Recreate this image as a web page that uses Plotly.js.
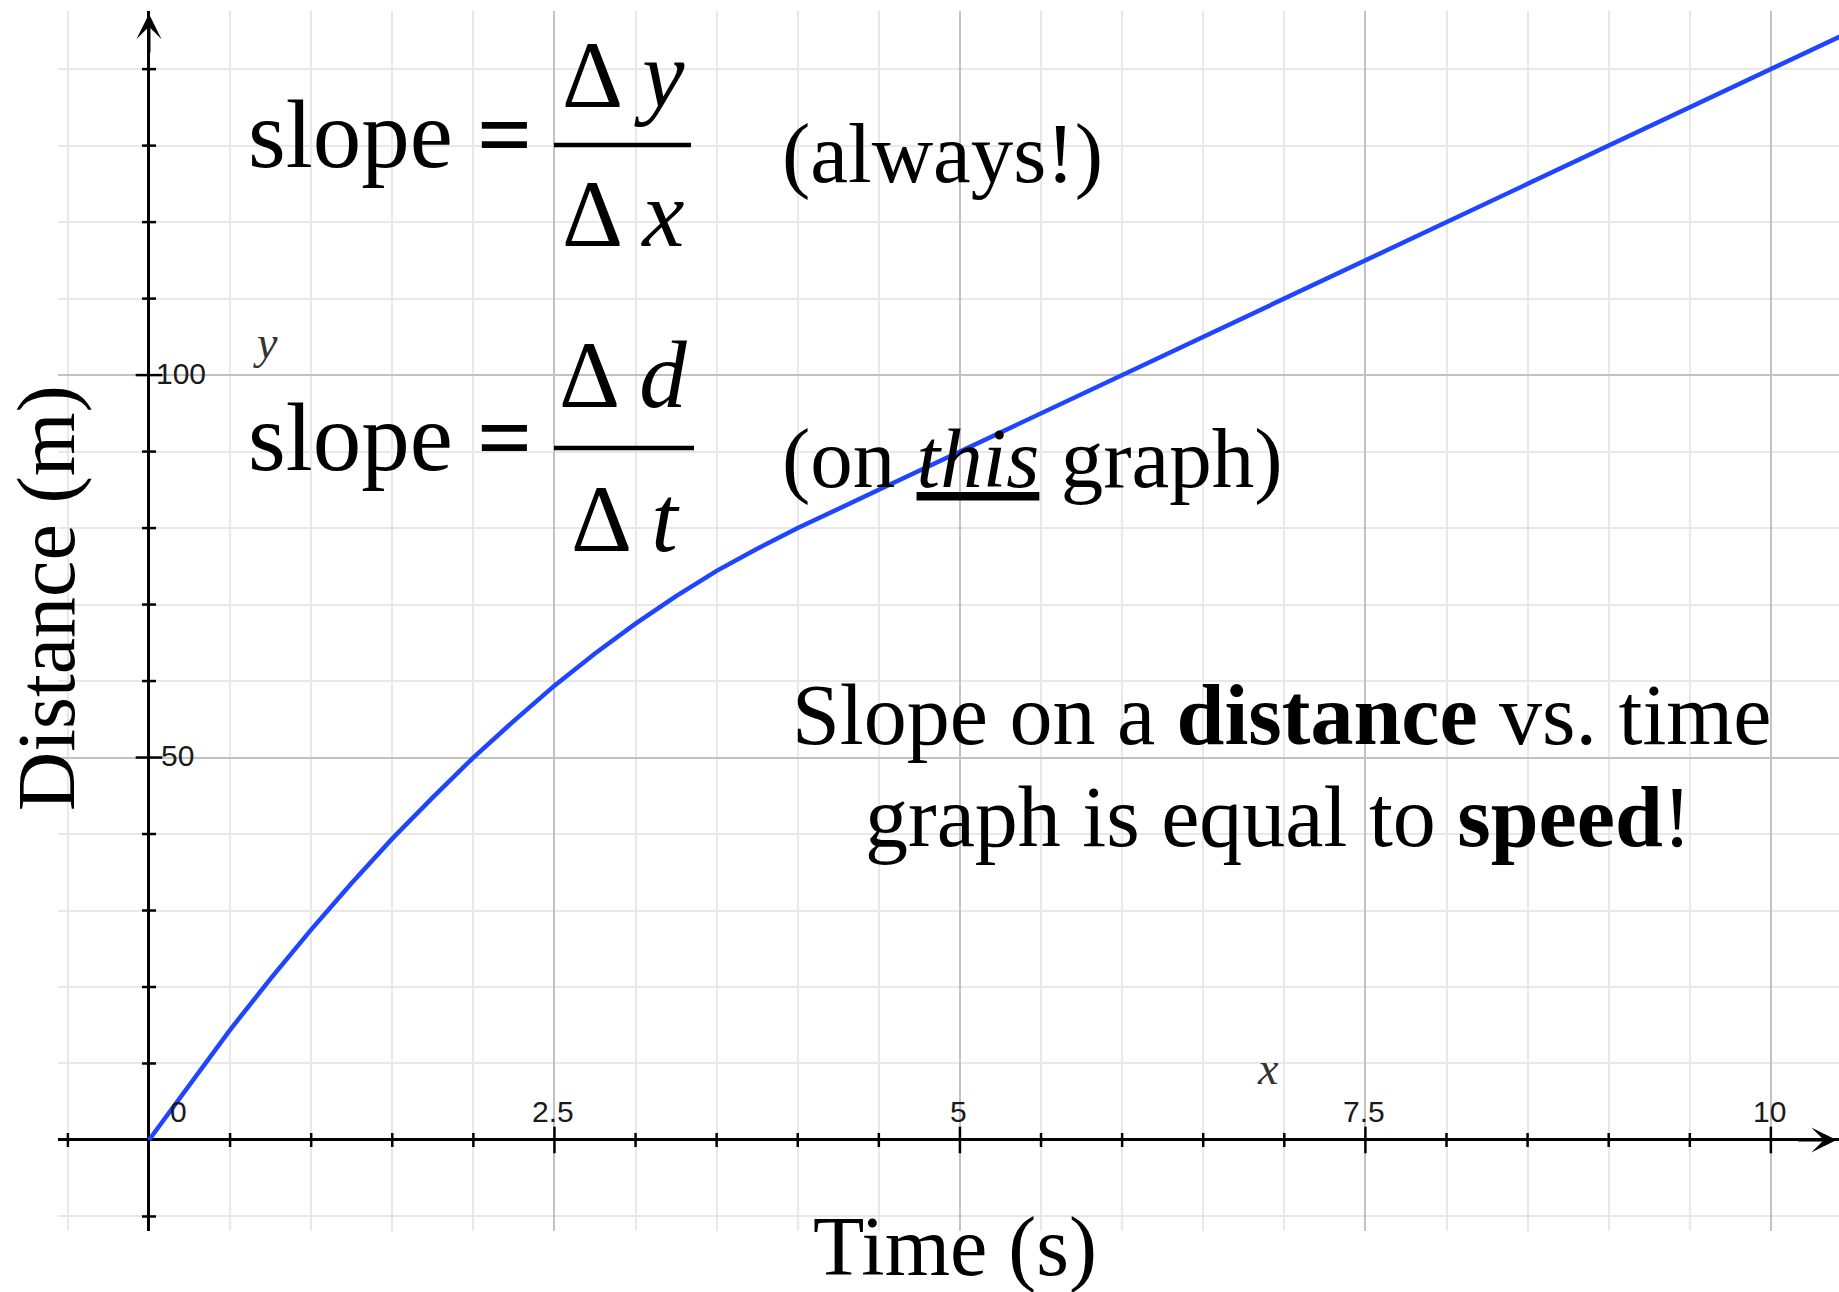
<!DOCTYPE html>
<html>
<head>
<meta charset="utf-8">
<script src="https://cdn.plot.ly/plotly-3.0.1.min.js"></script>
<style>
  html, body { margin: 0; padding: 0; background: #ffffff; }
  #chart { width: 1839px; height: 1292px; }
</style>
</head>
<body>
<div id="chart"></div>
<script>
// Distance travelled (m) against time (s)
const timeS = [0, 0.25, 0.5, 0.75, 1, 1.25, 1.5, 1.75, 2, 2.25, 2.5, 2.75, 3, 3.25, 3.5, 3.75, 4, 4.5, 5, 6, 7, 8, 9, 10, 10.45];
const distanceM = [0, 7.3, 14.4, 21.1, 27.5, 33.6, 39.4, 44.8, 50, 54.8, 59.4, 63.6, 67.5, 71.1, 74.4, 77.3, 80, 85, 90, 100, 110, 120, 130, 140, 144.5];

// Labelled ticks
const xTickVals = [0, 2.5, 5, 7.5, 10];
const xTickText = ['0', '2.5', '5', '7.5', '10'];
const yTickVals = [50, 100];
const yTickText = ['50', '100'];

// Small tick marks crossing the axes
const xMinorMarks = [-0.5, 0.5, 1, 1.5, 2, 3, 3.5, 4, 4.5, 5.5, 6, 6.5, 7, 8, 8.5, 9, 9.5];
const xMajorMarks = [2.5, 5, 7.5, 10];
const yMinorMarks = [-10, 10, 20, 30, 40, 60, 70, 80, 90, 110, 120, 130, 140];
const yMajorMarks = [50, 100];

const SERIF = 'Liberation Serif, Times New Roman, serif';
const SANS = 'Liberation Sans, Arial, sans-serif';

// Plot area in page pixels, used to place the free text
const PLOT = { left: 58, right: 1839, top: 11, bottom: 1231 };
const pxX = p => (p - PLOT.left) / (PLOT.right - PLOT.left);
const pxY = p => (PLOT.bottom - p) / (PLOT.bottom - PLOT.top);

function note(text, x, y, size, extra) {
  return Object.assign({
    xref: 'paper', yref: 'paper', x: pxX(x), y: pxY(y),
    text: text, showarrow: false, xanchor: 'center', yanchor: 'middle',
    font: { family: SERIF, size: size, color: '#000000' }
  }, extra || {});
}

function fractionBar(x0, x1, y) {
  return {
    type: 'line', xref: 'paper', yref: 'paper',
    x0: pxX(x0), x1: pxX(x1), y0: pxY(y), y1: pxY(y),
    line: { color: '#000000', width: 4.5 }
  };
}

const traces = [
  {
    type: 'scatter', mode: 'lines', x: timeS, y: distanceM,
    line: { color: '#1f45ff', width: 4.5 },
    hoverinfo: 'skip'
  },
  {
    type: 'scatter', mode: 'markers', x: xMinorMarks, y: xMinorMarks.map(() => 0),
    marker: { symbol: 'line-ns', size: 10, line: { width: 2.5, color: '#000000' } },
    hoverinfo: 'skip'
  },
  {
    type: 'scatter', mode: 'markers', x: xMajorMarks, y: xMajorMarks.map(() => 0),
    marker: { symbol: 'line-ns', size: 19, line: { width: 2.5, color: '#000000' } },
    hoverinfo: 'skip'
  },
  {
    type: 'scatter', mode: 'markers', x: yMinorMarks.map(() => 0), y: yMinorMarks,
    marker: { symbol: 'line-ew', size: 10, line: { width: 2.5, color: '#000000' } },
    hoverinfo: 'skip'
  },
  {
    type: 'scatter', mode: 'markers', x: yMajorMarks.map(() => 0), y: yMajorMarks,
    marker: { symbol: 'line-ew', size: 19, line: { width: 2.5, color: '#000000' } },
    hoverinfo: 'skip'
  }
];

const annotations = [];

// Numbers along the axes
xTickVals.forEach((v, i) => {
  annotations.push({
    xref: 'x', yref: 'y', x: v, y: 0, text: xTickText[i], showarrow: false,
    xanchor: 'center', yanchor: 'middle', xshift: v === 0 ? 30 : -1, yshift: 28,
    font: { family: SANS, size: 30, color: '#1a1a1a' }
  });
});
yTickVals.forEach((v, i) => {
  annotations.push({
    xref: 'x', yref: 'y', x: 0, y: v, text: yTickText[i], showarrow: false,
    xanchor: 'left', yanchor: 'middle', xshift: v === 100 ? 5 : 10, yshift: 2,
    font: { family: SANS, size: 30, color: '#1a1a1a' }
  });
});

// Axis arrows
annotations.push({
  xref: 'x', yref: 'y', x: 10.405, y: 0, ax: -40, ay: 0, text: '',
  showarrow: true, arrowhead: 3, arrowsize: 1.4, arrowwidth: 3, arrowcolor: '#000000'
});
annotations.push({
  xref: 'x', yref: 'y', x: 0, y: 147.2, ax: 0, ay: 40, text: '',
  showarrow: true, arrowhead: 3, arrowsize: 1.4, arrowwidth: 3, arrowcolor: '#000000'
});

// Axis variable names
annotations.push(note('<i>y</i>', 265, 343, 46, { font: { family: SERIF, size: 46, color: '#333333' } }));
annotations.push(note('<i>x</i>', 1268, 1068, 46, { font: { family: SERIF, size: 46, color: '#333333' } }));

// slope = Δy / Δx   (always!)
annotations.push(note('slope <b>=</b>', 246, 135, 97, { xanchor: 'left' }));
annotations.push(note('\u0394\u2009<i>y</i>', 623, 75, 95));
annotations.push(note('\u0394\u2009<i>x</i>', 623, 214, 95));
annotations.push(note('(always!)', 780, 153, 85, { xanchor: 'left' }));

// slope = Δd / Δt   (on this graph)
annotations.push(note('slope <b>=</b>', 246, 437, 97, { xanchor: 'left' }));
annotations.push(note('\u0394\u2009<i>d</i>', 623, 375, 95));
annotations.push(note('\u0394\u2009<i>t</i>', 625, 519, 95));
annotations.push(note('(on <u><i>this</i></u> graph)', 780, 458, 85, { xanchor: 'left' }));

// Summary statement
annotations.push(note('Slope on a <b>distance</b> vs. time', 1281, 715, 86));
annotations.push(note('graph is equal to <b>speed</b>!', 1278, 817, 86));

// Axis titles
annotations.push(note('Time (s)', 955, 1247, 84));
annotations.push(note('Distance (m)', 46, 598, 82, { textangle: -90 }));

const layout = {
  width: 1839, height: 1292,
  margin: { l: PLOT.left, r: 1839 - PLOT.right, t: PLOT.top, b: 1292 - PLOT.bottom, pad: 0 },
  paper_bgcolor: '#ffffff', plot_bgcolor: '#ffffff',
  showlegend: false,
  xaxis: {
    range: [-0.561, 10.42], tick0: 0, dtick: 2.5,
    showgrid: true, gridcolor: '#c2c2c2', gridwidth: 2,
    minor: { tick0: 0, dtick: 0.5, showgrid: true, gridcolor: '#e8e8e8', gridwidth: 2 },
    zeroline: true, zerolinecolor: '#000000', zerolinewidth: 3,
    showticklabels: false, ticks: '', showline: false, fixedrange: true
  },
  yaxis: {
    range: [-11.9, 147.6], tick0: 0, dtick: 50,
    showgrid: true, gridcolor: '#c2c2c2', gridwidth: 2,
    minor: { tick0: 0, dtick: 10, showgrid: true, gridcolor: '#e8e8e8', gridwidth: 2 },
    zeroline: true, zerolinecolor: '#000000', zerolinewidth: 3,
    showticklabels: false, ticks: '', showline: false, fixedrange: true
  },
  shapes: [
    fractionBar(554, 691, 145),
    fractionBar(554, 694, 448)
  ],
  annotations: annotations
};

Plotly.newPlot('chart', traces, layout, { staticPlot: true, displayModeBar: false });
</script>
</body>
</html>
